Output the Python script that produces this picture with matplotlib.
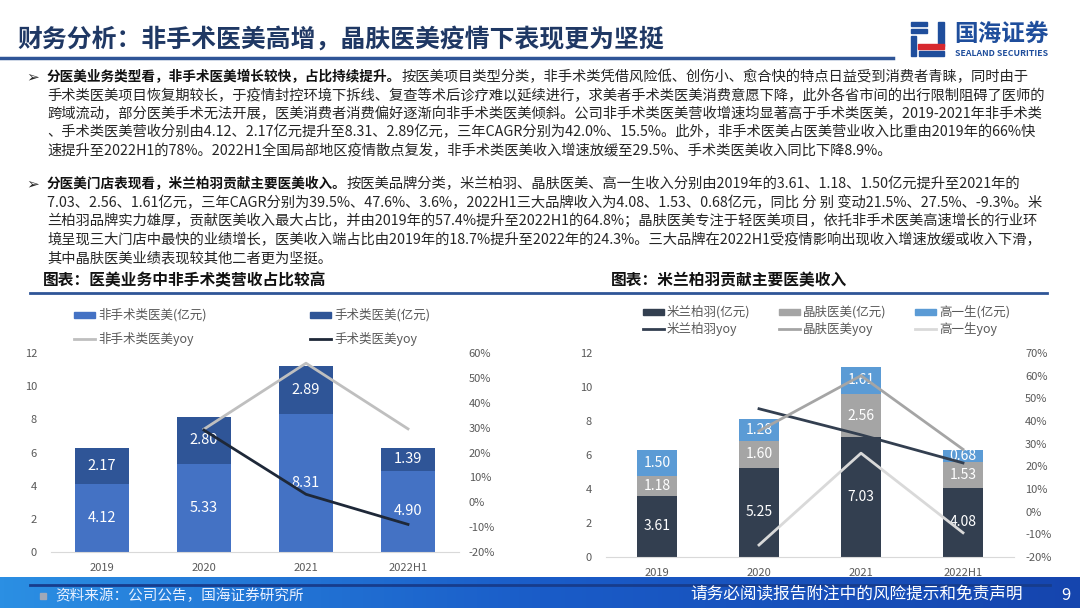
import numpy as np
import matplotlib.pyplot as plt
from matplotlib.patches import Rectangle, Polygon
from matplotlib.lines import Line2D
from matplotlib.ticker import FuncFormatter

plt.rcParams['font.family'] = ['Noto Sans CJK SC', 'DejaVu Sans']

# chart data
years = ['2019', '2020', '2021', '2022H1']

# left chart: non-surgical vs surgical revenue (亿元) and yoy (%)
left_names = ['非手术类医美(亿元)', '手术类医美(亿元)', '非手术类医美yoy', '手术类医美yoy']
non_surgical = [4.12, 5.33, 8.31, 4.90]
surgical = [2.17, 2.80, 2.89, 1.39]
non_surgical_yoy = [29.4, 55.9, 29.5]   # 2020, 2021, 2022H1
surgical_yoy = [29.0, 3.2, -8.9]

# right chart: revenue by brand (亿元) and yoy (%)
right_names = ['米兰柏羽(亿元)', '米兰柏羽yoy', '晶肤医美(亿元)', '晶肤医美yoy', '高一生(亿元)', '高一生yoy']
milan = [3.61, 5.25, 7.03, 4.08]
jingfu = [1.18, 1.60, 2.56, 1.53]
gaoyisheng = [1.50, 1.28, 1.61, 0.68]
milan_yoy = [45.4, 33.9, 21.5]
jingfu_yoy = [35.6, 60.0, 27.5]
gaoyisheng_yoy = [-14.7, 25.8, -9.3]

title = '财务分析：非手术医美高增，晶肤医美疫情下表现更为坚挺'
p1_bold = '分医美业务类型看，非手术医美增长较快，占比持续提升。'
p1_lines = [
    '按医美项目类型分类，非手术类凭借风险低、创伤小、愈合快的特点日益受到消费者青睐，同时由于',
    '手术类医美项目恢复期较长，于疫情封控环境下拆线、复查等术后诊疗难以延续进行，求美者手术类医美消费意愿下降，此外各省市间的出行限制阻碍了医师的',
    '跨域流动，部分医美手术无法开展，医美消费者消费偏好逐渐向非手术类医美倾斜。公司非手术类医美营收增速均显著高于手术类医美，2019-2021年非手术类',
    '、手术类医美营收分别由4.12、2.17亿元提升至8.31、2.89亿元，三年CAGR分别为42.0%、15.5%。此外，非手术医美占医美营业收入比重由2019年的66%快',
    '速提升至2022H1的78%。2022H1全国局部地区疫情散点复发，非手术类医美收入增速放缓至29.5%、手术类医美收入同比下降8.9%。',
]
p2_bold = '分医美门店表现看，米兰柏羽贡献主要医美收入。'
p2_lines = [
    '按医美品牌分类，米兰柏羽、晶肤医美、高一生收入分别由2019年的3.61、1.18、1.50亿元提升至2021年的',
    '7.03、2.56、1.61亿元，三年CAGR分别为39.5%、47.6%、3.6%，2022H1三大品牌收入为4.08、1.53、0.68亿元，同比 分 别 变动21.5%、27.5%、-9.3%。米',
    '兰柏羽品牌实力雄厚，贡献医美收入最大占比，并由2019年的57.4%提升至2022H1的64.8%；晶肤医美专注于轻医美项目，依托非手术医美高速增长的行业环',
    '境呈现三大门店中最快的业绩增长，医美收入端占比由2019年的18.7%提升至2022年的24.3%。三大品牌在2022H1受疫情影响出现收入增速放缓或收入下滑，',
    '其中晶肤医美业绩表现较其他二者更为坚挺。',
]

W, H = 1080, 608
fig = plt.figure(figsize=(10.8, 6.08), dpi=100)
bg = fig.add_axes([0, 0, 1, 1])
bg.set_xlim(0, W)
bg.set_ylim(H, 0)
bg.axis('off')

# header
bg.text(17, 39, title, fontsize=17.9, weight='bold', color='#1F3864', va='center')
bg.plot([0, 893], [58, 58], color='#2F5597', lw=2.5)
# logo (rough)
for x0, y0, w, h in [(911, 22, 16, 4), (911, 29, 16, 4), (911, 36, 5, 20), (938, 22, 6, 24), (919, 51, 25, 5)]:
    bg.add_patch(Rectangle((x0, y0), w, h, color='#1F4E9C'))
bg.add_patch(Polygon([(918, 44), (944, 44), (944, 49), (918, 49)], color='#D7282F'))
bg.text(954, 34, '国海证券', fontsize=17, weight='bold', color='#1F4E9C', va='center')
bg.text(955, 53, 'SEALAND SECURITIES', fontsize=6.3, weight='bold', color='#1F4E9C', va='center')


# paragraphs
def paragraph(y0, bold, lines, step=18.5):
    bg.text(26, y0, '➢', fontsize=11, color='#262626', va='center', family=['DejaVu Sans'])
    t = bg.text(47, y0, bold, fontsize=9.8, weight='bold', color='#111111', va='center')
    bg.annotate(lines[0], xy=(1, 0.5), xycoords=t, fontsize=10.3, color='#262626', va='center')
    for i, s in enumerate(lines[1:], start=1):
        bg.text(47, y0 + i * step, s, fontsize=10.3, color='#262626', va='center')


paragraph(77, p1_bold, p1_lines)
paragraph(184, p2_bold, p2_lines)

# chart titles
bg.text(43, 280, '图表：医美业务中非手术类营收占比较高', fontsize=11.3, weight='bold', color='#111111', va='center')
bg.text(611, 280, '图表：米兰柏羽贡献主要医美收入', fontsize=11.3, weight='bold', color='#111111', va='center')
bg.plot([30, 1047], [293, 293], color='#2F5597', lw=2)

# footer band
grad = np.linspace(0, 1, 256)[None, :]
cmap = plt.matplotlib.colors.LinearSegmentedColormap.from_list('band', ['#2B8FE3', '#1A5CC8', '#1545AE'])
bg.imshow(grad, extent=(0, W, H, 577), aspect='auto', cmap=cmap, zorder=0)
bg.set_xlim(0, W)
bg.set_ylim(H, 0)
bg.plot([30, 1050], [585, 585], color='#173C8C', lw=2)
bg.add_patch(Rectangle((40, 593), 6, 6, color='#9FA8B8'))
bg.text(55, 596, '资料来源：公司公告，国海证券研究所', fontsize=10.5, style='italic', color='#E8F0FF', va='center')
bg.text(690, 595, '请务必阅读报告附注中的风险提示和免责声明', fontsize=12, color='white', va='center')
bg.text(1061, 595, '9', fontsize=12, color='white', va='center')

gray = '#595959'
pct = FuncFormatter(lambda v, p: f'{v:.0f}%')


def style(ax, axr, lpad, rpad):
    for s in ax.spines.values():
        s.set_visible(False)
    for s in axr.spines.values():
        s.set_visible(False)
    ax.spines['bottom'].set_visible(True)
    ax.spines['bottom'].set_color('#D9D9D9')
    ax.tick_params(length=0, labelsize=8, colors=gray, pad=lpad)
    ax.tick_params(axis='x', pad=8)
    axr.tick_params(length=0, labelsize=8, colors=gray, pad=rpad)
    axr.yaxis.set_major_formatter(pct)
    ax.patch.set_alpha(0)


def legend_entry(x, y, kind, color, label):
    if kind == 'bar':
        bg.add_patch(Rectangle((x, y - 3), 21, 6, color=color))
    else:
        bg.add_line(Line2D([x, x + 21], [y, y], color=color, lw=2))
    bg.text(x + 24, y, label, fontsize=9, color=gray, va='center')


x = np.arange(len(years))

# left chart
ax1 = fig.add_axes([51 / W, 1 - 552 / H, 408 / W, 199 / H])
ax1.bar(x, non_surgical, 0.53, color='#4472C4')
ax1.bar(x, surgical, 0.53, bottom=non_surgical, color='#2F5597')
for i in x:
    ax1.text(i, non_surgical[i] / 2, f'{non_surgical[i]:.2f}', ha='center', va='center', color='white', fontsize=10.5)
    ax1.text(i, non_surgical[i] + surgical[i] / 2, f'{surgical[i]:.2f}', ha='center', va='center', color='white', fontsize=10.5)
ax1.set_xlim(-0.5, 3.5)
ax1.set_ylim(0, 12)
ax1.set_yticks(range(0, 13, 2))
ax1.set_xticks(x, years)
ax2 = ax1.twinx()
ax2.plot(x[1:], non_surgical_yoy, color='#BFBFBF', lw=2)
ax2.plot(x[1:], surgical_yoy, color='#1E2838', lw=2)
ax2.set_ylim(-20, 60)
ax2.set_yticks(range(-20, 61, 10))
style(ax1, ax2, 10, 7)

legend_entry(74, 315, 'bar', '#4472C4', left_names[0])
legend_entry(310, 315, 'bar', '#2F5597', left_names[1])
legend_entry(74, 339, 'line', '#BFBFBF', left_names[2])
legend_entry(310, 339, 'line', '#1E2838', left_names[3])

# right chart
ax3 = fig.add_axes([606 / W, 1 - 557 / H, 408 / W, 204 / H])
b1 = np.array(milan)
b2 = np.array(jingfu)
b3 = np.array(gaoyisheng)
ax3.bar(x, b1, 0.39, color='#333F50')
ax3.bar(x, b2, 0.39, bottom=b1, color='#A5A5A5')
ax3.bar(x, b3, 0.39, bottom=b1 + b2, color='#5B9BD5')
for i in x:
    ax3.text(i, b1[i] / 2, f'{b1[i]:.2f}', ha='center', va='center', color='white', fontsize=10)
    ax3.text(i, b1[i] + b2[i] / 2, f'{b2[i]:.2f}', ha='center', va='center', color='white', fontsize=10)
    ax3.text(i, b1[i] + b2[i] + b3[i] / 2, f'{b3[i]:.2f}', ha='center', va='center', color='white', fontsize=10)
ax3.set_xlim(-0.5, 3.5)
ax3.set_ylim(0, 12)
ax3.set_yticks(range(0, 13, 2))
ax3.set_xticks(x, years)
ax4 = ax3.twinx()
ax4.plot(x[1:], milan_yoy, color='#333F50', lw=2)
ax4.plot(x[1:], jingfu_yoy, color='#A5A5A5', lw=2)
ax4.plot(x[1:], gaoyisheng_yoy, color='#D9D9D9', lw=2)
ax4.set_ylim(-20, 70)
ax4.set_yticks(range(-20, 71, 10))
style(ax3, ax4, 10, 8)

cols = ['#333F50', '#A5A5A5', '#5B9BD5']
line_cols = ['#333F50', '#A5A5A5', '#D9D9D9']
for k, xx in enumerate([643, 779, 915]):
    legend_entry(xx, 312, 'bar', cols[k], right_names[2 * k])
    legend_entry(xx, 329, 'line', line_cols[k], right_names[2 * k + 1])

fig.savefig('out.png', dpi=100)
